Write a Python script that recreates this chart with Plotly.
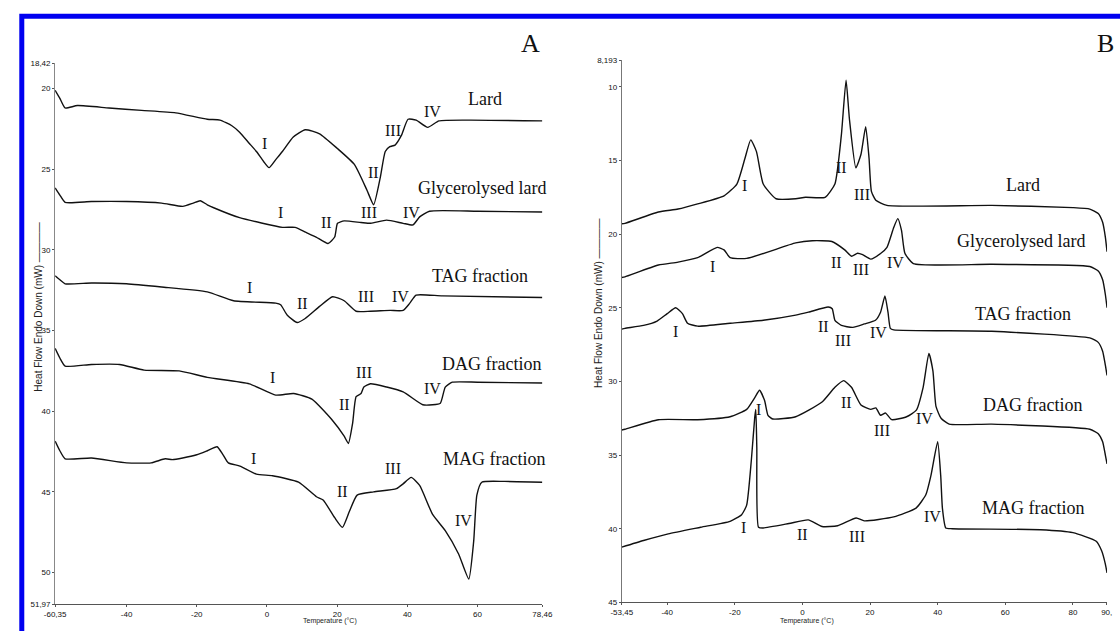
import plotly.graph_objects as go

# ---------------- Panel A data (Temperature °C, Heat flow mW) ----------------
A_lard_T = [-60.35, -59, -57.5, -54, -45, -35.7, -26, -17, -13.4, -10, -7.8, -5, -3, -1, 0.6, 2.5, 4.4, 7.5, 10.9, 15, 20, 24.9, 28.5, 30.4, 32.3, 33.7, 35, 36.5, 38.3, 40.2, 42.5, 45.8, 49, 57.5, 78.46]
A_lard_Y = [20.1, 20.6, 21.2, 21.05, 21.2, 21.35, 21.5, 21.9, 21.95, 22.3, 22.7, 23.4, 23.9, 24.5, 24.9, 24.4, 23.9, 23.0, 22.55, 22.8, 23.7, 24.7, 26.3, 27.2, 25.5, 23.9, 23.6, 23.5, 22.9, 21.9, 21.95, 22.4, 22.0, 21.95, 22.0]

A_gly_T = [-60.35, -59, -57.5, -50, -40, -30, -24, -21, -19, -17, -15, -7.8, 4.4, 8, 11, 14, 17.4, 19.3, 20.1, 22, 26.8, 29.6, 34.1, 38.8, 41.6, 43.5, 46.3, 60, 78.46]
A_gly_Y = [26.15, 26.6, 27.05, 27.0, 27.0, 27.1, 27.3, 27.1, 26.95, 27.2, 27.4, 28.0, 28.6, 28.6, 28.9, 29.2, 29.6, 29.2, 28.35, 28.2, 28.3, 28.35, 28.15, 28.35, 28.45, 27.95, 27.6, 27.6, 27.65]

A_tag_T = [-60.35, -59, -57.5, -50, -40, -30, -17, -9.5, 2.5, 3.9, 5.8, 8.6, 10.9, 15, 18.7, 22, 25.4, 29.5, 35.1, 38.8, 40.7, 42.5, 50, 78.46]
A_tag_Y = [31.6, 31.85, 32.1, 32.05, 32.1, 32.3, 32.6, 33.15, 33.3, 33.4, 34.05, 34.5, 34.25, 33.5, 32.9, 33.15, 33.8, 33.8, 33.75, 33.75, 33.3, 32.8, 32.85, 32.95]

A_dag_T = [-60.35, -59, -57.5, -50, -42, -35, -25, -17, -5, 2.5, 7.6, 12.8, 18.4, 22, 23.2, 24.4, 25.4, 26.8, 27.6, 29.5, 34.1, 38.8, 44.4, 47.2, 49.4, 50.8, 52.8, 60, 78.46]
A_dag_Y = [36.1, 36.7, 37.2, 37.1, 37.1, 37.45, 37.5, 37.9, 38.3, 39.0, 38.9, 39.25, 40.5, 41.55, 42.0, 40.75, 39.1, 38.9, 38.5, 38.3, 38.5, 38.8, 39.6, 39.6, 39.5, 38.5, 38.2, 38.2, 38.25]

A_mag_T = [-60.35, -59, -57.5, -50, -40, -33, -29, -27, -24, -20, -17, -14.2, -12.5, -11, -7.7, -3, 1.6, 9, 14.1, 16, 19.3, 21.5, 23.5, 25.7, 30.4, 36.9, 38.8, 41.1, 43.5, 47.2, 50.8, 54.6, 57.5, 58.9, 59.8, 61.2, 67.6, 78.46]
A_mag_Y = [41.85, 42.45, 42.95, 42.9, 43.2, 43.2, 42.95, 43.0, 42.9, 42.7, 42.45, 42.2, 42.7, 43.2, 43.4, 43.9, 44.0, 44.4, 45.3, 45.5, 46.6, 47.2, 46.2, 45.2, 45.0, 44.8, 44.5, 44.1, 44.6, 46.4, 47.4, 48.85, 50.4, 48.05, 45.2, 44.4, 44.35, 44.4]

# ---------------- Panel B data ----------------
B_lard_T = [-53.45, -52.5, -42.6, -36.8, -31, -23.2, -19.4, -17, -15.3, -13.6, -11.6, -7.8, -2, 0.9, 6.7, 9.6, 11.5, 12.9, 13.9, 15.8, 17.3, 18.7, 19.7, 20.4, 21.7, 25, 56, 80, 85, 87.5, 88.8, 89.6, 90.1]
B_lard_Y = [19.3, 19.27, 18.5, 18.3, 17.95, 17.4, 16.6, 14.85, 13.6, 14.4, 16.6, 17.6, 17.6, 17.5, 17.5, 16.6, 13.3, 9.55, 12.2, 15.5, 14.6, 12.7, 14.85, 17.1, 17.7, 18.05, 18.05, 18.2, 18.3, 18.6, 19.2, 20.2, 21.2]

B_gly_T = [-53.45, -52.5, -42.6, -36.8, -31, -25.2, -23.2, -21.4, -16.5, -2, 2.9, 8.7, 12.5, 14.5, 16.3, 17.8, 20.2, 23.2, 25, 27, 28.2, 29.3, 30.3, 32.8, 56, 85, 87.5, 88.8, 89.6, 90.1]
B_gly_Y = [22.95, 22.9, 22.1, 21.9, 21.6, 20.9, 21.07, 21.6, 21.65, 20.6, 20.45, 20.5, 21.07, 21.5, 21.3, 21.4, 21.7, 21.3, 20.9, 19.55, 18.95, 19.75, 21.3, 22.0, 22.05, 22.2, 22.5, 23.1, 24.1, 25.0]

B_tag_T = [-53.45, -52.5, -47, -43, -40, -37.5, -35.5, -34, -31, -21.4, -11.6, -2, 1.8, 7.6, 8.8, 9.6, 11.5, 14.9, 18.3, 21.6, 23.1, 24.4, 25.3, 26, 27, 56, 85, 87.5, 88.8, 89.6, 90.1]
B_tag_Y = [26.45, 26.4, 26.2, 25.9, 25.4, 25.0, 25.4, 26.05, 26.25, 26.05, 25.85, 25.5, 25.3, 24.95, 25.07, 25.85, 26.2, 26.33, 26.1, 25.85, 25.3, 24.2, 25.3, 26.4, 26.5, 26.6, 27.05, 27.35, 27.95, 28.9, 29.6]

B_dag_T = [-53.45, -52.5, -42.6, -31, -21.4, -16.5, -14.1, -12.7, -11.2, -10.2, -8.8, -2, 5.8, 9.6, 12.2, 14.5, 17.3, 20.2, 21.7, 23.1, 24.6, 26.4, 30.8, 33.7, 35.7, 37.4, 38.6, 39.5, 41, 43.4, 56, 85, 87.5, 88.8, 89.6, 90.1]
B_dag_Y = [33.3, 33.25, 32.6, 32.6, 32.4, 31.9, 31.1, 30.6, 31.3, 32.3, 32.55, 32.4, 31.4, 30.4, 29.95, 30.4, 31.6, 31.9, 31.8, 32.3, 32.15, 32.6, 32.4, 31.95, 30.4, 28.1, 29.3, 31.7, 32.5, 32.9, 32.9, 33.25, 33.55, 34.1, 35.0, 35.6]

B_mag_T = [-53.45, -47, -39.7, -30.1, -21.4, -18, -16.5, -15.1, -14.1, -13.8, -13.5, -13.0, -11.6, -4, 1.7, 5.8, 10.4, 15.9, 18.3, 27, 33.6, 36.5, 38, 40, 40.9, 41.4, 42.4, 44.3, 70.4, 80, 86.9, 88.5, 89.6, 90.1]
B_mag_Y = [41.25, 40.8, 40.35, 39.9, 39.5, 39.05, 38.4, 35.3, 32.4, 31.9, 34.5, 39.9, 39.95, 39.65, 39.4, 39.85, 39.8, 39.27, 39.47, 39.2, 38.6, 37.7, 36.4, 34.1, 36.4, 38.6, 39.95, 40.0, 40.07, 40.27, 40.85, 41.5, 42.4, 43.0]

# ---------------- Labels ----------------
sample_names = ["Lard", "Glycerolysed lard", "TAG fraction", "DAG fraction", "MAG fraction"]
A_name_T = [62, 61.2, 60.6, 64, 64.8]
A_name_Y = [20.67, 26.15, 31.6, 37.1, 42.95]
B_name_T = [65.2, 64.6, 65.2, 68.1, 68.1]
B_name_Y = [16.7, 20.5, 25.4, 31.6, 38.6]

A_roman = ["I", "II", "III", "IV",
           "I", "II", "III", "IV",
           "I", "II", "III", "IV",
           "I", "II", "III", "IV",
           "I", "II", "III", "IV"]
A_roman_T = [-0.8, 30.4, 36, 47.2,
             3.9, 17, 29, 41.3,
             -5, 10, 28.2, 38,
             1.7, 22, 27.7, 47.2,
             -3.9, 21.5, 36, 56.1]
A_roman_Y = [23.4, 25.2, 22.6, 21.4,
             27.7, 28.3, 27.7, 27.7,
             32.3, 33.3, 32.9, 32.9,
             37.9, 39.6, 37.6, 38.6,
             42.9, 45.0, 43.55, 46.8]

B_roman = ["I", "II", "III",
           "I", "II", "III", "IV",
           "I", "II", "III", "IV",
           "I", "II", "III", "IV",
           "I", "II", "III", "IV"]
B_roman_T = [-17.1, 11.6, 17.7,
             -26.7, 10.1, 17.4, 27.5,
             -37.7, 6.1, 11.9, 22.6,
             -13, 13, 23.5, 36.2,
             -17.4, 0, 16.2, 38.6]
B_roman_Y = [16.7, 15.5, 17.3,
             22.2, 21.9, 22.4, 21.95,
             26.6, 26.3, 27.2, 26.7,
             31.9, 31.4, 33.3, 32.5,
             39.9, 40.4, 40.5, 39.2]

A_xticks = [-60.35, -40, -20, 0, 20, 40, 60, 78.46]
A_xtext = ["-60,35", "-40", "-20", "0", "20", "40", "60", "78,46"]
A_yticks = [18.42, 20, 25, 30, 35, 40, 45, 50, 51.97]
A_ytext = ["18,42", "20", "25", "30", "35", "40", "45", "50", "51,97"]
B_xticks = [-53.45, -40, -20, 0, 20, 40, 60, 80, 90]
B_xtext = ["-53,45", "-40", "-20", "0", "20", "40", "60", "80", "90,"]
B_yticks = [8.193, 10, 15, 20, 25, 30, 35, 40, 45]
B_ytext = ["8,193", "10", "15", "20", "25", "30", "35", "40", "45"]

W, H = 1120, 631
def px(x): return x / W
def py(y): return 1 - y / H

fig = go.Figure()
line = dict(color="#111111", width=1.4, shape="spline", smoothing=0.5)
for T, Y in [(A_lard_T, A_lard_Y), (A_gly_T, A_gly_Y), (A_tag_T, A_tag_Y), (A_dag_T, A_dag_Y), (A_mag_T, A_mag_Y)]:
    fig.add_trace(go.Scatter(x=T, y=Y, mode="lines", line=line, xaxis="x", yaxis="y", showlegend=False))
for T, Y in [(B_lard_T, B_lard_Y), (B_gly_T, B_gly_Y), (B_tag_T, B_tag_Y), (B_dag_T, B_dag_Y), (B_mag_T, B_mag_Y)]:
    fig.add_trace(go.Scatter(x=T, y=Y, mode="lines", line=line, xaxis="x2", yaxis="y2", showlegend=False))

serif = "Liberation Serif"
ann = []
for n, t, y in zip(sample_names, A_name_T, A_name_Y):
    ann.append(dict(x=t, y=y, xref="x", yref="y", text=n, showarrow=False, font=dict(family=serif, size=18, color="#111")))
for n, t, y in zip(sample_names, B_name_T, B_name_Y):
    ann.append(dict(x=t, y=y, xref="x2", yref="y2", text=n, showarrow=False, font=dict(family=serif, size=18, color="#111")))
for n, t, y in zip(A_roman, A_roman_T, A_roman_Y):
    ann.append(dict(x=t, y=y, xref="x", yref="y", text=n, showarrow=False, font=dict(family=serif, size=16, color="#111")))
for n, t, y in zip(B_roman, B_roman_T, B_roman_Y):
    ann.append(dict(x=t, y=y, xref="x2", yref="y2", text=n, showarrow=False, font=dict(family=serif, size=16, color="#111")))

# Panel letters
ann.append(dict(x=px(530), y=py(23), xref="paper", yref="paper", text="A", showarrow=False, font=dict(family=serif, size=26, color="#111")))
ann.append(dict(x=px(1106), y=py(23), xref="paper", yref="paper", text="B", showarrow=False, xanchor="left", font=dict(family=serif, size=26, color="#111")))
# Axis titles
ann.append(dict(x=px(20), y=py(308), xref="paper", yref="paper", text="Heat Flow Endo Down (mW) ————", textangle=-90, showarrow=False, font=dict(family="Liberation Sans", size=10, color="#222")))
ann.append(dict(x=px(599), y=py(304), xref="paper", yref="paper", text="Heat Flow Endo Down (mW) ————", textangle=-90, showarrow=False, font=dict(family="Liberation Sans", size=10, color="#222")))
ann.append(dict(x=px(297), y=0, xref="paper", yref="paper", text="Temperature (°C)", yanchor="bottom", showarrow=False, borderpad=0, font=dict(family="Liberation Sans", size=7, color="#222")))
ann.append(dict(x=px(841), y=0, xref="paper", yref="paper", text="Temperature (°C)", yanchor="bottom", showarrow=False, borderpad=0, font=dict(family="Liberation Sans", size=7, color="#222")))

tickfont = dict(family="Liberation Sans", size=8, color="#111")
common = dict(showgrid=False, zeroline=False, showline=True, ticks="outside", ticklen=2, tickwidth=1, tickfont=tickfont, tickmode="array")

fig.update_layout(
    width=W, height=H, margin=dict(l=0, r=0, t=0, b=0),
    paper_bgcolor="white", plot_bgcolor="white",
    annotations=ann,
    xaxis=dict(domain=[px(45), px(542)], range=[-60.35, 78.46], tickvals=A_xticks, ticktext=A_xtext, anchor="y", linecolor="#555", tickcolor="#555", **common),
    yaxis=dict(domain=[py(609), py(60)], range=[51.97, 18.42], tickvals=A_yticks, ticktext=A_ytext, anchor="x", linecolor="#888", tickcolor="#555", **common),
    xaxis2=dict(domain=[px(623), px(1118)], range=[-53.45, 90.1], tickvals=B_xticks, ticktext=B_xtext, anchor="y2", linecolor="#555", tickcolor="#555", **common),
    yaxis2=dict(domain=[py(607), py(57)], range=[45, 8.193], tickvals=B_yticks, ticktext=B_ytext, anchor="x2", linecolor="#777", tickcolor="#555", **common),
    shapes=[dict(type="rect", xref="paper", yref="paper", x0=px(11), x1=1.05, y0=-0.05, y1=py(12.5),
                 line=dict(color="#0000f0", width=5), fillcolor="rgba(0,0,0,0)")],
)

fig.write_html("out.html")
